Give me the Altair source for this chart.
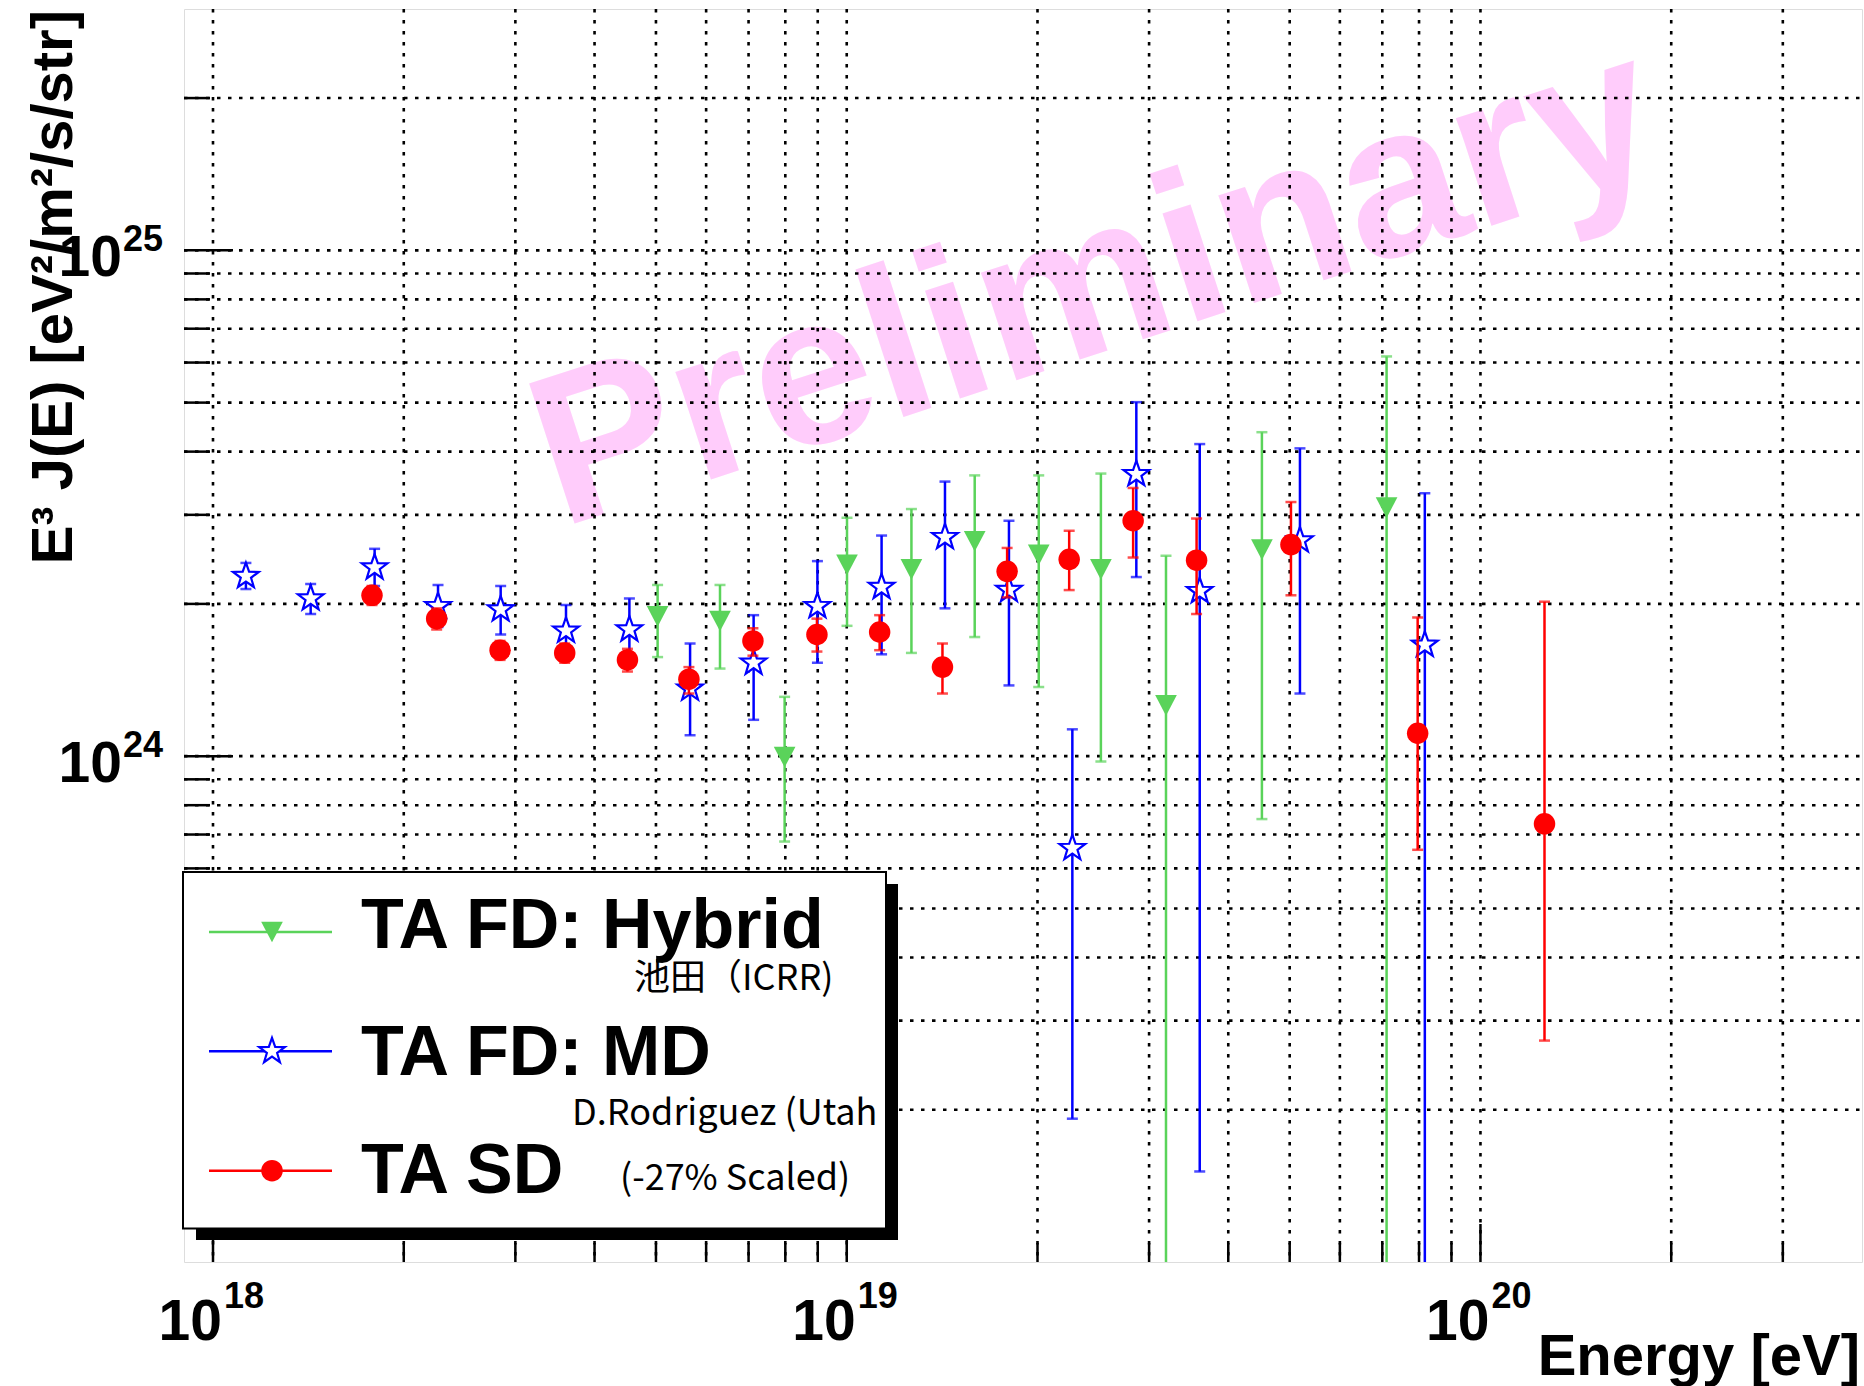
import altair as alt
import pandas as pd

# ---------------------------------------------------------------- data
# TA FD: Hybrid
hyb_E = [5.03e18, 6.31e18, 7.98e18, 1.001e19, 1.265e19, 1.592e19, 2.009e19,
         2.518e19, 3.19e19, 4.52e19, 7.11e19]
hyb_F = [1.89e24, 1.85e24, 9.96e23, 2.39e24, 2.34e24, 2.66e24, 2.50e24,
         2.34e24, 1.26e24, 2.56e24, 3.10e24]
hyb_hi = [2.18e24, 2.18e24, 1.31e24, 2.96e24, 3.08e24, 3.59e24, 3.59e24,
          3.62e24, 2.49e24, 4.37e24, 6.17e24]
hyb_lo = [1.57e24, 1.49e24, 6.78e23, 1.81e24, 1.60e24, 1.72e24, 1.37e24,
          9.76e23, 3e22, 7.51e23, 3e22]

# TA FD: MD
md_E = [1.127e18, 1.426e18, 1.799e18, 2.265e18, 2.844e18, 3.606e18, 4.54e18,
        5.66e18, 7.13e18, 8.99e18, 1.135e19, 1.429e19, 1.803e19, 2.27e19,
        2.864e19, 3.606e19, 5.19e19, 8.17e19]
md_F = [2.27e24, 2.05e24, 2.36e24, 1.98e24, 1.95e24, 1.77e24, 1.78e24,
        1.36e24, 1.53e24, 1.98e24, 2.16e24, 2.71e24, 2.13e24, 6.58e23,
        3.61e24, 2.12e24, 2.67e24, 1.66e24]
md_hi = [2.41e24, 2.19e24, 2.57e24, 2.18e24, 2.17e24, 1.99e24, 2.05e24,
         1.67e24, 1.90e24, 2.43e24, 2.73e24, 3.49e24, 2.92e24, 1.13e24,
         5.01e24, 4.14e24, 4.06e24, 3.31e24]
md_lo = [2.14e24, 1.91e24, 2.17e24, 1.80e24, 1.74e24, 1.55e24, 1.52e24,
         1.10e24, 1.18e24, 1.53e24, 1.59e24, 1.96e24, 1.38e24, 1.92e23,
         2.26e24, 1.51e23, 1.33e24, 3e22]

# TA SD (-27% scaled)
sd_E = [1.782e18, 2.254e18, 2.838e18, 3.589e18, 4.508e18, 5.636e18, 7.112e18,
        8.974e18, 1.127e19, 1.416e19, 1.791e19, 2.244e19, 2.831e19, 3.565e19,
        5.023e19, 7.96e19, 1.262e20]
sd_F = [2.08e24, 1.87e24, 1.62e24, 1.60e24, 1.55e24, 1.42e24, 1.69e24,
        1.74e24, 1.76e24, 1.50e24, 2.32e24, 2.45e24, 2.92e24, 2.44e24,
        2.62e24, 1.11e24, 7.35e23]
sd_hi = [2.17e24, 1.96e24, 1.69e24, 1.67e24, 1.63e24, 1.50e24, 1.79e24,
         1.87e24, 1.90e24, 1.67e24, 2.58e24, 2.79e24, 3.39e24, 2.95e24,
         3.18e24, 1.88e24, 2.02e24]
sd_lo = [1.99e24, 1.78e24, 1.55e24, 1.53e24, 1.47e24, 1.33e24, 1.58e24,
         1.61e24, 1.62e24, 1.33e24, 2.06e24, 2.13e24, 2.47e24, 1.91e24,
         2.08e24, 6.53e23, 2.74e23]

# axis decorations
x_domain = [9e17, 4e20]
y_domain = [1e23, 3e25]
x_grid = [m * 10.0 ** e for e in (18, 19) for m in range(1, 10)] + [1e20, 2e20, 3e20]
y_grid = ([m * 1e23 for m in range(2, 10)] + [m * 1e24 for m in range(1, 10)]
          + [1e25, 2e25])
x_major = [1e18, 1e19, 1e20]
y_major = [1e24, 1e25]
x_minor = [v for v in x_grid if all(abs(v / d - 1) > 1e-6 for d in x_major)]
y_minor = [v for v in y_grid if all(abs(v / d - 1) > 1e-6 for d in y_major)]
x_lab_base = ["10", "10", "10"]
x_lab_exp = ["18", "19", "20"]
y_lab_base = ["10", "10"]
y_lab_exp = ["24", "25"]

series_names = ["TA FD: Hybrid", "TA FD: MD", "TA SD"]
series_notes = ["池田（ICRR)", "D.Rodriguez (Utah", "(-27% Scaled)"]

# ---------------------------------------------------------------- style
W, H = 1678, 1253
FONT = "Liberation Sans"
CJK = "Noto Sans CJK JP"
GREEN, BLUE, RED = "#5ad35a", "#0000ff", "#ff0000"
STAR = ("M0,-1L0.235,-0.324L0.951,-0.309L0.38,0.124L0.588,0.809L0,0.4"
        "L-0.588,0.809L-0.38,0.124L-0.951,-0.309L-0.235,-0.324Z")
TRI_DOWN = "M-1,-0.95L1,-0.95L0,0.95Z"

xs = alt.Scale(type="log", domain=x_domain)
ys = alt.Scale(type="log", domain=y_domain)


def X(f):
    return alt.X(f"{f}:Q", scale=xs, axis=None)


def Y(f):
    return alt.Y(f"{f}:Q", scale=ys, axis=None)


one = pd.DataFrame({"k": [0]})
layers = []

# watermark
layers.append(
    alt.Chart(pd.DataFrame({"t": ["Preliminary"]})).mark_text(
        font=FONT, fontWeight="bold", fontSize=214, color="#ffccfb", angle=342,
        align="left", baseline="alphabetic"
    ).encode(text="t:N", x=alt.value(377), y=alt.value(519))
)

# dotted grid
layers.append(
    alt.Chart(pd.DataFrame({"v": x_grid})).mark_rule(
        color="black", strokeWidth=2.6, strokeDash=[3.5, 7.5]
    ).encode(x=X("v"), y=alt.value(0), y2=alt.value(H))
)
layers.append(
    alt.Chart(pd.DataFrame({"v": y_grid})).mark_rule(
        color="black", strokeWidth=2.6, strokeDash=[3.5, 7.5]
    ).encode(y=Y("v"), x=alt.value(0), x2=alt.value(W))
)

# inward ticks
for vals, ln in ((x_minor, 19), (x_major, 38)):
    layers.append(
        alt.Chart(pd.DataFrame({"v": vals})).mark_rule(color="black", strokeWidth=2.5)
        .encode(x=X("v"), y=alt.value(H), y2=alt.value(H - ln))
    )
for vals, ln in ((y_minor, 26), (y_major, 49)):
    layers.append(
        alt.Chart(pd.DataFrame({"v": vals})).mark_rule(color="black", strokeWidth=2.5)
        .encode(y=Y("v"), x=alt.value(0), x2=alt.value(ln))
    )

# tick labels (10 with a raised exponent)
xl = pd.DataFrame({"v": x_major, "b": x_lab_base, "e": x_lab_exp})
layers.append(
    alt.Chart(xl).mark_text(font=FONT, fontWeight="bold", fontSize=57, align="right",
                            baseline="alphabetic", dx=9)
    .encode(x=X("v"), y=alt.value(1331), text="b:N")
)
layers.append(
    alt.Chart(xl).mark_text(font=FONT, fontWeight="bold", fontSize=36, align="left",
                            baseline="alphabetic", dx=11)
    .encode(x=X("v"), y=alt.value(1299), text="e:N")
)
yl = pd.DataFrame({"v": y_major, "b": y_lab_base, "e": y_lab_exp})
layers.append(
    alt.Chart(yl).mark_text(font=FONT, fontWeight="bold", fontSize=57, align="right",
                            baseline="alphabetic", dy=26)
    .encode(y=Y("v"), x=alt.value(-62), text="b:N")
)
layers.append(
    alt.Chart(yl).mark_text(font=FONT, fontWeight="bold", fontSize=36, align="left",
                            baseline="alphabetic", dy=1)
    .encode(y=Y("v"), x=alt.value(-61), text="e:N")
)

# axis titles
layers.append(
    alt.Chart(pd.DataFrame({"t": ["E³ J(E) [eV²/m²/s/str]"]})).mark_text(
        font=FONT, fontWeight="bold", fontSize=58, angle=270,
        align="right", baseline="alphabetic"
    ).encode(text="t:N", x=alt.value(-112), y=alt.value(1))
)
layers.append(
    alt.Chart(pd.DataFrame({"t": ["Energy [eV]"]})).mark_text(
        font=FONT, fontWeight="bold", fontSize=58, align="right", baseline="alphabetic"
    ).encode(text="t:N", x=alt.value(1676), y=alt.value(1366))
)


# data series: error bar, caps, marker
def series(E, F, hi, lo, color, shape, size, fill):
    df = pd.DataFrame({"E": E, "F": F, "hi": hi, "lo": lo})
    out = [
        alt.Chart(df).mark_rule(color=color, strokeWidth=2.5, clip=True)
        .encode(x=X("E"), y=Y("lo"), y2="hi"),
        alt.Chart(df).mark_tick(color=color, orient="horizontal", size=11,
                                thickness=2.5, clip=True)
        .encode(x=X("E"), y=Y("hi")),
        alt.Chart(df).mark_tick(color=color, orient="horizontal", size=11,
                                thickness=2.5, clip=True)
        .encode(x=X("E"), y=Y("lo")),
        alt.Chart(df).mark_point(shape=shape, size=size, filled=True, fill=fill,
                                 stroke=color, strokeWidth=2.2 if fill == "white" else 0,
                                 opacity=1, clip=True)
        .encode(x=X("E"), y=Y("F")),
    ]
    return out


layers += series(hyb_E, hyb_F, hyb_hi, hyb_lo, GREEN, TRI_DOWN, 470, GREEN)
layers += series(md_E, md_F, md_hi, md_lo, BLUE, STAR, 729, "white")
layers += series(sd_E, sd_F, sd_hi, sd_lo, RED, "circle", 462, RED)

# legend box with drop shadow
layers.append(alt.Chart(one).mark_rect(fill="black").encode(
    x=alt.value(12), x2=alt.value(714), y=alt.value(875), y2=alt.value(1231)))
layers.append(alt.Chart(one).mark_rect(fill="white", stroke="black", strokeWidth=2).encode(
    x=alt.value(-1), x2=alt.value(702), y=alt.value(863), y2=alt.value(1219.5)))

legend_style = [(GREEN, TRI_DOWN, 470, GREEN), (BLUE, STAR, 729, "white"),
                (RED, "circle", 462, RED)]
row_y = [923, 1042.3, 1161.7]
label_base = [939.3, 1066, 1184]
note_pos = [(450, 981), (388, 1116), (436, 1181)]
for i, (color, shape, size, fill) in enumerate(legend_style):
    layers.append(alt.Chart(one).mark_rule(color=color, strokeWidth=2.5).encode(
        x=alt.value(25), x2=alt.value(148), y=alt.value(row_y[i])))
    layers.append(alt.Chart(one).mark_point(
        shape=shape, size=size, filled=True, fill=fill, stroke=color,
        strokeWidth=2.2 if fill == "white" else 0, opacity=1
    ).encode(x=alt.value(88), y=alt.value(row_y[i])))
    layers.append(alt.Chart(pd.DataFrame({"t": [series_names[i]]})).mark_text(
        font=FONT, fontWeight="bold", fontSize=70, align="left", baseline="alphabetic"
    ).encode(text="t:N", x=alt.value(177), y=alt.value(label_base[i])))
    layers.append(alt.Chart(pd.DataFrame({"t": [series_notes[i]]})).mark_text(
        font=CJK, fontSize=36, align="left", baseline="alphabetic", color="black"
    ).encode(text="t:N", x=alt.value(note_pos[i][0]), y=alt.value(note_pos[i][1])))

chart = alt.layer(*layers).properties(
    width=W, height=H,
    padding={"left": 184, "top": 9, "right": 2, "bottom": 124},
    autosize=alt.AutoSizeParams(type="none"),
).configure_view(stroke="black", strokeWidth=2.5).configure(background="white")

chart.save("out.html", embed_options={"renderer": "svg", "actions": False})
